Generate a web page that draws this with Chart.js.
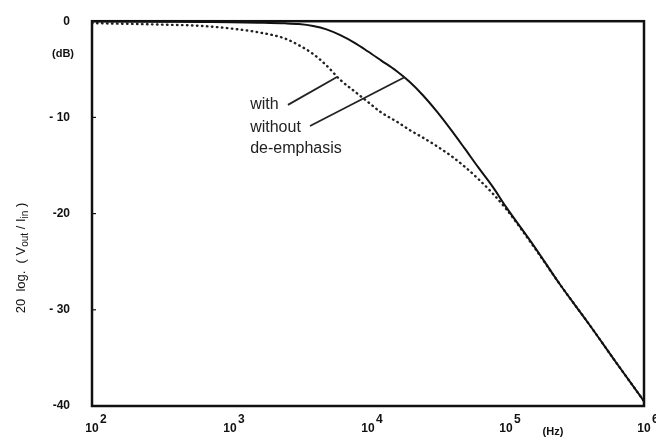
<!DOCTYPE html>
<html>
<head>
<meta charset="utf-8">
<script src="https://cdn.jsdelivr.net/npm/chart.js@4.4.1/dist/chart.umd.min.js"></script>
<style>
  body { margin: 0; background: #fff; }
  #wrap { width: 656px; height: 445px; }
</style>
</head>
<body>
<div id="wrap"><canvas id="myChart" width="656" height="445"></canvas></div>
<script>
// frequency points (Hz)
const freqHz = [100, 316, 630, 1000, 1600, 2500, 3160, 4000, 5000, 6300, 8000, 10000,
    12500, 16000, 20000, 25000, 31600, 40000, 50000, 63000, 80000, 100000,
    160000, 250000, 400000, 630000, 1000000];

// solid curve: without de-emphasis
const withoutDb = [0, -0.05, -0.08, -0.1, -0.15, -0.22, -0.3, -0.5, -0.85, -1.45, -2.25, -3.15,
    -4.1, -5.15, -6.3, -7.7, -9.4, -11.3, -13.2, -15.2, -17.2, -19.3,
    -23.4, -27.5, -31.5, -35.5, -39.5];

// dotted curve: with de-emphasis
const withDb = [-0.2, -0.35, -0.5, -0.75, -1.15, -1.8, -2.5, -3.4, -4.6, -6.1, -7.3, -8.4,
    -9.5, -10.4, -11.3, -12.1, -13.0, -14.0, -15.1, -16.4, -17.9, -19.5,
    -23.5, -27.5, -31.5, -35.5, -39.5];

const decades = [100, 1000, 10000, 100000, 1000000];
const decadeExp = ["2", "3", "4", "5", "6"];
const yTicks = [0, -10, -20, -30, -40];
const yTickLabels = ["0", "- 10", "-20", "- 30", "-40"];

// labels and pointer lines, in data units (Hz, dB)
const notes = [
    { text: "with", f: 1400, db: -8.7 },
    { text: "without", f: 1400, db: -11.1 },
    { text: "de-emphasis", f: 1400, db: -13.2 },
];
const pointers = [
    { from: [2630, -8.7], to: [5960, -5.8] },
    { from: [3800, -10.9], to: [18550, -5.8] },
];

const FONT = '"Liberation Sans", Arial, sans-serif';

const drawExtras = {
    id: "drawExtras",
    afterDatasetsDraw(chart) {
        const { ctx, chartArea: a, scales: { x, y } } = chart;
        ctx.save();
        ctx.strokeStyle = "#111";
        ctx.fillStyle = "#111";

        // frame
        ctx.lineWidth = 2.5;
        ctx.strokeRect(a.left, a.top, a.right - a.left, a.bottom - a.top);

        // small inside ticks on the dB axis
        ctx.lineWidth = 1.2;
        for (const v of [-10, -20, -30]) {
            const py = y.getPixelForValue(v);
            ctx.beginPath();
            ctx.moveTo(a.left, py);
            ctx.lineTo(a.left + 4, py);
            ctx.stroke();
        }

        // decade labels 10^n
        decades.forEach((d, i) => {
            const px = x.getPixelForValue(d);
            ctx.font = "bold 12px " + FONT;
            ctx.textAlign = "center";
            ctx.textBaseline = "alphabetic";
            ctx.fillText("10", px, 432);
            ctx.textAlign = "left";
            ctx.fillText(decadeExp[i], px + 8, 423);
        });

        // units
        ctx.font = "bold 11px " + FONT;
        ctx.textAlign = "center";
        ctx.textBaseline = "middle";
        ctx.fillText("(Hz)", 553, 432);
        ctx.fillText("(dB)", 63, 54);

        // y title with subscripts, rotated
        ctx.save();
        ctx.translate(21, 258);
        ctx.rotate(-Math.PI / 2);
        const parts = [
            ["20  log.  ( V", 13, 0],
            ["out", 10, 4],
            [" / I", 13, 0],
            ["in", 10, 4],
            [" )", 13, 0],
        ];
        let total = 0;
        for (const p of parts) {
            ctx.font = p[1] + "px " + FONT;
            total += ctx.measureText(p[0]).width;
        }
        let cx = -total / 2;
        ctx.textAlign = "left";
        ctx.textBaseline = "middle";
        for (const p of parts) {
            ctx.font = p[1] + "px " + FONT;
            ctx.fillText(p[0], cx, p[2]);
            cx += ctx.measureText(p[0]).width;
        }
        ctx.restore();

        // notes + pointer lines
        ctx.font = "16px " + FONT;
        ctx.fillStyle = "#222";
        ctx.textAlign = "left";
        ctx.textBaseline = "middle";
        for (const n of notes) {
            ctx.fillText(n.text, x.getPixelForValue(n.f), y.getPixelForValue(n.db));
        }
        ctx.lineWidth = 1.8;
        ctx.strokeStyle = "#222";
        for (const p of pointers) {
            ctx.beginPath();
            ctx.moveTo(x.getPixelForValue(p.from[0]), y.getPixelForValue(p.from[1]));
            ctx.lineTo(x.getPixelForValue(p.to[0]), y.getPixelForValue(p.to[1]));
            ctx.stroke();
        }
        ctx.restore();
    },
};

const ctx = document.getElementById("myChart").getContext("2d");
const myChart = new Chart(ctx, {
    type: "line",
    data: {
        datasets: [
            {
                label: "without de-emphasis",
                data: freqHz.map((f, i) => ({ x: f, y: withoutDb[i] })),
                borderColor: "#111",
                borderWidth: 2,
                pointRadius: 0,
                cubicInterpolationMode: "monotone",
            },
            {
                label: "with de-emphasis",
                data: freqHz.map((f, i) => ({ x: f, y: withDb[i] })),
                borderColor: "#222",
                borderWidth: 2.4,
                borderDash: [0.5, 4.5],
                borderCapStyle: "round",
                pointRadius: 0,
                cubicInterpolationMode: "monotone",
            },
        ],
    },
    options: {
        responsive: false,
        animation: false,
        devicePixelRatio: 1,
        layout: { padding: { top: 17, right: 12, bottom: 39, left: 0 } },
        scales: {
            x: {
                type: "logarithmic",
                min: 100,
                max: 1000000,
                display: false,
            },
            y: {
                min: -40,
                max: 0,
                afterFit(s) { s.width = 92; },
                afterBuildTicks(s) { s.ticks = yTicks.map(v => ({ value: v })); },
                ticks: {
                    callback: (v) => yTickLabels[yTicks.indexOf(v)],
                    font: { family: FONT, size: 12, weight: "bold" },
                    color: "#111",
                    padding: 14,
                },
                grid: { display: false },
                border: { display: false },
            },
        },
        plugins: {
            legend: { display: false },
            tooltip: { enabled: false },
        },
    },
    plugins: [drawExtras],
});
</script>
</body>
</html>
